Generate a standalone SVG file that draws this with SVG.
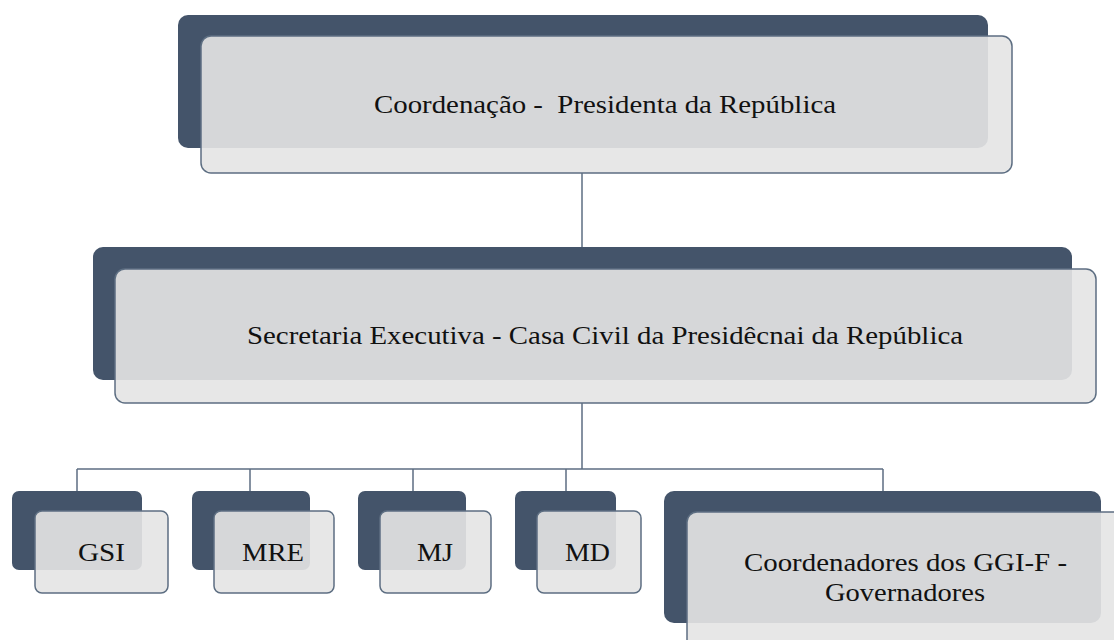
<svg xmlns="http://www.w3.org/2000/svg" width="1114" height="640" viewBox="0 0 1114 640">
<style>
.back{fill:#44546a}
.front{fill:#e5e5e5;fill-opacity:0.91;stroke:#5d6e82;stroke-width:1.5}
.lbl{fill:#111;text-anchor:middle;white-space:pre;font-size:26px;font-family:"Liberation Serif",Tinos,"Times New Roman","DejaVu Serif",serif}
.con{fill:none;stroke:#5d6e82;stroke-width:1.5}
</style>
<rect width="1114" height="640" fill="#ffffff"/>
<g id="connectors">
<path class="con" d="M582 173 V247"/>
<path class="con" d="M582 403 V469 M77 469 H883 M77 469 V491 M250 469 V491 M413 469 V491 M566 469 V491 M883 469 V491"/>
</g>
<g id="n1">
<rect class="back" x="178" y="15" width="810" height="133" rx="10"/>
<rect class="front" x="201" y="36" width="811" height="137" rx="10"/>
<text class="lbl" x="605" y="113" textLength="462" lengthAdjust="spacingAndGlyphs" xml:space="preserve">Coordenação -  Presidenta da República</text>
</g>
<g id="n2">
<rect class="back" x="93" y="247" width="979" height="133" rx="10"/>
<rect class="front" x="115" y="269" width="981" height="134" rx="10"/>
<text class="lbl" x="605" y="344" textLength="716" lengthAdjust="spacingAndGlyphs">Secretaria Executiva - Casa Civil da Presidêcnai da República</text>
</g>
<g id="n3">
<rect class="back" x="12" y="491" width="130" height="79" rx="7"/>
<rect class="front" x="35" y="511" width="133" height="82" rx="7"/>
<text class="lbl" x="101.5" y="561" textLength="47" lengthAdjust="spacingAndGlyphs">GSI</text>
</g>
<g id="n4">
<rect class="back" x="192" y="491" width="118" height="79" rx="7"/>
<rect class="front" x="214" y="511" width="120" height="82" rx="7"/>
<text class="lbl" x="273" y="561" textLength="62" lengthAdjust="spacingAndGlyphs">MRE</text>
</g>
<g id="n5">
<rect class="back" x="358" y="491" width="108" height="79" rx="7"/>
<rect class="front" x="380" y="511" width="111" height="82" rx="7"/>
<text class="lbl" x="435" y="561" textLength="36" lengthAdjust="spacingAndGlyphs">MJ</text>
</g>
<g id="n6">
<rect class="back" x="515" y="491" width="101" height="79" rx="7"/>
<rect class="front" x="537" y="511" width="104" height="82" rx="7"/>
<text class="lbl" x="587.5" y="561" textLength="45" lengthAdjust="spacingAndGlyphs">MD</text>
</g>
<g id="n7">
<rect class="back" x="664" y="491" width="437" height="132" rx="10"/>
<rect class="front" x="687" y="512" width="450" height="150" rx="10"/>
<text class="lbl" x="905.5" y="571" textLength="323" lengthAdjust="spacingAndGlyphs">Coordenadores dos GGI-F -</text>
<text class="lbl" x="905" y="601" textLength="160" lengthAdjust="spacingAndGlyphs">Governadores</text>
</g>
</svg>
